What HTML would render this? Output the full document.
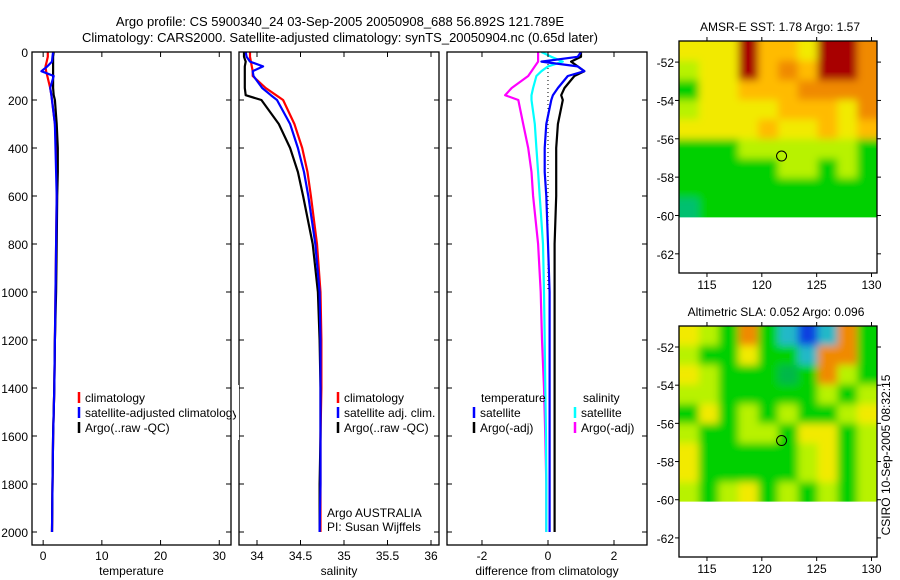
<!DOCTYPE html>
<html><head><meta charset="utf-8">
<style>
html,body{margin:0;padding:0;background:#fff;}
svg{display:block;font-family:"Liberation Sans",sans-serif;}
</style></head>
<body>
<svg id="fig" width="900" height="580" viewBox="0 0 900 580">
<defs><filter id="soft" x="-5%" y="-5%" width="110%" height="110%"><feGaussianBlur stdDeviation="4"/></filter></defs>
<text x="340" y="26" font-size="13" text-anchor="middle">Argo profile: CS 5900340_24 03-Sep-2005 20050908_688 56.892S 121.789E</text>
<text x="340" y="42" font-size="13" text-anchor="middle">Climatology: CARS2000. Satellite-adjusted climatology: synTS_20050904.nc (0.65d later)</text>
<text x="780" y="31" font-size="12" text-anchor="middle">AMSR-E SST: 1.78 Argo: 1.57</text>
<text x="776" y="316" font-size="12" text-anchor="middle">Altimetric SLA: 0.052 Argo: 0.096</text>
<text x="0" y="0" font-size="12" transform="translate(890,455) rotate(-90)" text-anchor="middle">CSIRO 10-Sep-2005 08:32:15</text>
</svg>
<script>
const depths=[0,20,40,60,80,100,150,180,200,300,400,500,600,800,1000,1200,1400,1600,1800,2000];
const tempClim=[0.8,0.8,0.6,0.4,0.5,0.7,1.2,1.4,1.5,2.0,2.2,2.3,2.3,2.2,2.1,2.0,1.9,1.7,1.6,1.5];
const tempSat=[1.7,1.6,1.5,0.7,-0.3,1.8,1.2,1.4,1.5,2.0,2.1,2.2,2.3,2.2,2.1,2.0,1.9,1.7,1.6,1.5];
const tempArgo=[1.8,1.7,1.7,1.7,1.7,1.7,1.7,1.8,2.0,2.3,2.5,2.5,2.4,2.3,2.2,2.0,1.9,1.7,1.6,1.5];
const salClim=[33.92,33.92,33.93,33.94,33.95,33.95,34.1,34.22,34.3,34.43,34.52,34.58,34.62,34.69,34.73,34.74,34.74,34.73,34.73,34.73];
const salSat=[33.87,33.88,33.92,34.07,33.95,33.96,34.06,34.16,34.23,34.38,34.47,34.54,34.59,34.67,34.72,34.73,34.73,34.73,34.73,34.72];
const salArgo=[33.85,33.85,33.87,33.86,33.86,33.86,33.86,33.87,34.05,34.25,34.38,34.47,34.53,34.64,34.70,34.72,34.73,34.73,34.72,34.72];
const dTempSat=[1.0,0.9,-0.2,0.9,1.1,0.6,0.3,0.15,0.1,-0.05,-0.1,-0.1,-0.05,0,0.05,0.05,0.05,0.05,0.05,0.05];
const dTempArgo=[1.0,1.0,0.7,0.9,1.1,0.8,0.5,0.4,0.45,0.3,0.25,0.25,0.25,0.2,0.2,0.2,0.2,0.2,0.2,0.2];
const dSalSat=[-0.2,0.1,0.45,0.0,-0.2,-0.35,-0.45,-0.5,-0.5,-0.4,-0.35,-0.3,-0.25,-0.15,-0.12,-0.1,-0.08,-0.06,-0.05,-0.05];
const dSalArgo=[-0.3,-0.3,-0.3,-0.4,-0.5,-0.6,-1.1,-1.3,-0.9,-0.75,-0.6,-0.5,-0.45,-0.3,-0.22,-0.18,-0.12,-0.08,-0.05,-0.05];
const depthTicks=[0,200,400,600,800,1000,1200,1400,1600,1800,2000];
const tempTicks=[0,10,20,30];
const salTicks=[34,34.5,35,35.5,36];
const salTickLabels=["34","34.5","35","35.5","36"];
const diffTicks=[-2,0,2];
const lonTicks=[115,120,125,130];
const latTicks=[-52,-54,-56,-58,-60,-62];
const sstGrid=["YYYRAAYRRO","LYYRAOARRO","GYYAAAOOOO","LYYYYAAAYO","YYYYAYYAYA","GGGLLLLLLG","GGGGGLLGLG","GGGGGGGGGG","TGGGGGGGGG"];
const slaGrid=["YLGOGCBCOG","LGGYGGCOOG","YLGGGDGOLG","LLGGGGGLGL","GYGLGLGGLY","LGGLLGYYGL","YGGGGGLYGL","YGGGGGLYGL","LGLYGLGLGL"];
const profLon=121.8, profLat=-56.9;

const NS="http://www.w3.org/2000/svg";
const svg=document.getElementById('fig');
function mk(tag,attrs,parent){const e=document.createElementNS(NS,tag);for(const k in attrs)e.setAttribute(k,attrs[k]);(parent||svg).appendChild(e);return e;}
const yTop=52, yBot=545;
function yD(d){return yTop+d*0.24;}
function panel(name,x0,x1,xmin,xmax,ticks,labels,xlabel,showY){
  const g=mk('g',{});
  
  
  const sx=v=>x0+(v-xmin)/(xmax-xmin)*(x1-x0);
  const clip=mk('clipPath',{id:'c'+name},g);
  mk('rect',{x:x0,y:yTop,width:x1-x0,height:yBot-yTop},clip);
  const plot=mk('g',{'clip-path':'url(#c'+name+')'},g);
  mk('rect',{x:x0,y:yTop,width:x1-x0,height:yBot-yTop,fill:'none',stroke:'#000','stroke-width':1.3},g);
  depthTicks.forEach(d=>{const y=yD(d);
    mk('line',{x1:x0,x2:x0+5,y1:y,y2:y,stroke:'#000'},g);mk('line',{x1:x1-5,x2:x1,y1:y,y2:y,stroke:'#000'},g);
    if(showY){const t=mk('text',{x:x0-4,y:y+5,'font-size':12,'text-anchor':'end'},g);t.textContent=d;
      
      }});
  ticks.forEach((v,i)=>{const x=sx(v);
    mk('line',{x1:x,x2:x,y1:yTop,y2:yTop+5,stroke:'#000'},g);mk('line',{x1:x,x2:x,y1:yBot-5,y2:yBot,stroke:'#000'},g);
    const t=mk('text',{x:x,y:yBot+15,'font-size':12,'text-anchor':'middle'},g);t.textContent=labels[i];
    
    });
  const xl=mk('text',{x:(x0+x1)/2,y:yBot+30,'font-size':12,'text-anchor':'middle'},g);xl.textContent=xlabel;
  
  
  return {plot,sx,g};
}
function line(p,vals,color,name,w){
  const pts=vals.map((v,i)=>p.sx(v).toFixed(1)+','+yD(depths[i]).toFixed(1)).join(' ');
  const e=mk('polyline',{points:pts,fill:'none',stroke:color,'stroke-width':w||2.2,'stroke-linejoin':'round'},p.plot);
  
  
}
function legend(g,x,y,color,label,name){
  mk('line',{x1:x,x2:x,y1:y-10,y2:y+1,stroke:color,'stroke-width':2.5},g);
  const t=mk('text',{x:x+6,y:y,'font-size':12},g);t.textContent=label;
  
  
}
const p1=panel('temperature-panel',32,231,-1.9,32,tempTicks,tempTicks.map(String),'temperature',true);
line(p1,tempClim,'#f00','temp-climatology-line');
line(p1,tempArgo,'#000','temp-argo-line');
line(p1,tempSat,'#00f','temp-satellite-line');
const p2=panel('salinity-panel',239,439,33.793,36.092,salTicks,salTickLabels,'salinity',false);
line(p2,salClim,'#f00','sal-climatology-line');
line(p2,salArgo,'#000','sal-argo-line');
line(p2,salSat,'#00f','sal-satellite-line');
const p3=panel('difference-panel',447,647,-3.06,3.0,diffTicks,diffTicks.map(String),'difference from climatology',false);
const zeroX=p3.sx(0);
const zl=mk('line',{x1:zeroX,x2:zeroX,y1:yTop,y2:yD(1000),stroke:'#000','stroke-width':1,'stroke-dasharray':'1,3'},p3.plot);


line(p3,dSalArgo,'#f0f','sal-diff-argo-line');
line(p3,dSalSat,'#0ff','sal-diff-satellite-line');
line(p3,dTempArgo,'#000','temp-diff-argo-line');
line(p3,dTempSat,'#00f','temp-diff-satellite-line');
const lg1=mk('g',{});
legend(lg1,79,402,'#f00','climatology','legend-climatology');
legend(lg1,79,417,'#00f','satellite-adjusted climatology','legend-satellite-adjusted');
legend(lg1,79,432,'#000','Argo(..raw -QC)','legend-argo');
mk('rect',{x:236,y:385,width:3,height:55,fill:'#fff'});
legend(svg,338,402,'#f00','climatology','legend2-climatology');
legend(svg,338,417,'#00f','satellite adj. clim.','legend2-satellite');
legend(svg,338,432,'#000','Argo(..raw -QC)','legend2-argo');
const a1=mk('text',{x:327,y:517,'font-size':12});a1.textContent='Argo AUSTRALIA';


const a2=mk('text',{x:327,y:531,'font-size':12});a2.textContent='PI: Susan Wijffels';


const h1=mk('text',{x:481,y:402,'font-size':12});h1.textContent='temperature';


const h2=mk('text',{x:583,y:402,'font-size':12});h2.textContent='salinity';


legend(svg,474,417,'#00f','satellite','legend3-temp-satellite');
legend(svg,474,432,'#000','Argo(-adj)','legend3-temp-argo');
legend(svg,575,417,'#0ff','satellite','legend3-sal-satellite');
legend(svg,575,432,'#f0f','Argo(-adj)','legend3-sal-argo');
const palette={R:'#a80000',O:'#f08a00',A:'#ffbb00',Y:'#f2ea00',L:'#b8f200',G:'#00d000',T:'#00c070',B:'#1040e0',C:'#20b8c8',D:'#00b848'};
function map(name,top,bot,grid,pal){
  const x0=679,x1=877,lonMin=112.45,lonMax=130.5;
  const latPix=(bot-top)/12.1, lat0=-50.9;
  const sx=lon=>x0+(lon-lonMin)/(lonMax-lonMin)*(x1-x0);
  const sy=lat=>top+(lat0-lat)*latPix;
  const g=mk('g',{});
  
  
  const rows=grid.length, cols=grid[0].length;
  const yData=sy(-60.1), cw=(x1-x0)/cols, ch=(yData-top)/rows;
  const cp=mk('clipPath',{id:'clip-'+name},g);
  mk('rect',{x:x0,y:top,width:x1-x0,height:yData-top},cp);
  const outer=mk('g',{'clip-path':'url(#clip-'+name+')'},g);
  const cells=mk('g',{filter:'url(#soft)'},outer);
  grid.forEach((r,i)=>{for(let j=0;j<cols;j++){
    // extend edge cells outward so blur doesn't fade at borders
    let x=x0+j*cw, y=top+i*ch, w=cw+0.6, h=ch+0.6;
    if(j===0){x-=10;w+=10;} if(j===cols-1){w+=10;}
    if(i===0){y-=10;h+=10;} if(i===rows-1){h+=10;}
    const c=mk('rect',{x:x.toFixed(1),y:y.toFixed(1),width:w.toFixed(1),height:h.toFixed(1),fill:pal[r[j]]},cells);
    
    }});
  mk('rect',{x:x0,y:top,width:x1-x0,height:bot-top,fill:'none',stroke:'#000','stroke-width':1.3},g);
  lonTicks.forEach(l=>{const x=sx(l);mk('line',{x1:x,x2:x,y1:top,y2:top-4,stroke:'#000'},g);mk('line',{x1:x,x2:x,y1:bot,y2:bot+4,stroke:'#000'},g);
    const t=mk('text',{x:x,y:bot+16,'font-size':12,'text-anchor':'middle'},g);t.textContent=l;
    
    });
  latTicks.forEach(l=>{const y=sy(l);mk('line',{x1:x0-4,x2:x0,y1:y,y2:y,stroke:'#000'},g);mk('line',{x1:x1,x2:x1+4,y1:y,y2:y,stroke:'#000'},g);
    const t=mk('text',{x:x0-5,y:y+5,'font-size':12,'text-anchor':'end'},g);t.textContent=l;
    
    });
  const c=mk('circle',{cx:sx(profLon),cy:sy(profLat),r:5,fill:'none',stroke:'#000','stroke-width':1},g);
  
  
}
map('sst-map',41,273,sstGrid,palette);
map('sla-map',326,557,slaGrid,palette);
</script>
</body></html>
